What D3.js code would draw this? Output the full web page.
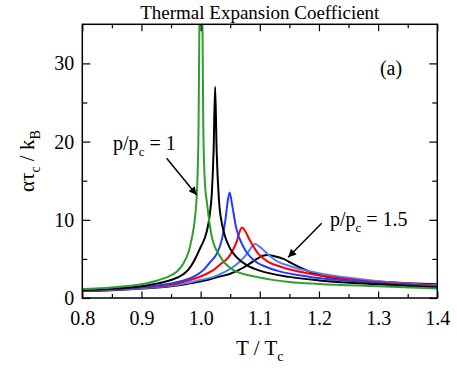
<!DOCTYPE html>
<html>
<head>
<meta charset="utf-8">
<script src="https://cdn.jsdelivr.net/npm/d3@7"></script>
<style>
  body { margin: 0; background: #fff; }
  svg text { fill: #000; }
</style>
</head>
<body>
<div id="master"></div>
<script>
// curves: [T/Tc, alpha*tau_c/kB]
let green = [[0.80,1.15],[0.85,1.35],[0.90,1.75],[0.93,2.3],[0.95,2.9],[0.96,3.4],[0.97,4.3],[0.98,6.0],[0.985,7.6],[0.99,10],[0.994,14],[0.9965,22],[0.998,36],[0.9995,60],[1.0015,60],[1.003,36],[1.0045,22],[1.007,15],[1.011,12],[1.019,7.8],[1.033,5.3],[1.055,3.6],[1.095,2.7],[1.15,2.05],[1.2,1.8],[1.3,1.5],[1.4,1.2]]
let black1 = [[0.80,1.0],[0.85,1.2],[0.90,1.5],[0.93,1.9],[0.95,2.3],[0.97,3.0],[0.98,3.7],[0.99,4.9],[1.00,6.5],[1.01,8.4],[1.015,10.4],[1.019,13.5],[1.022,19],[1.0245,27],[1.027,19],[1.031,12.5],[1.036,9.5],[1.042,7.7],[1.05,6.3],[1.061,5.2],[1.08,4.1],[1.10,3.5],[1.15,2.7],[1.2,2.25],[1.3,1.75],[1.4,1.35]]
let blue = [[0.80,1.0],[0.85,1.15],[0.90,1.4],[0.95,1.85],[0.974,2.3],[0.99,2.8],[1.005,3.6],[1.015,4.5],[1.0276,5.7],[1.036,7.5],[1.0417,9.9],[1.046,12.5],[1.049,13.5],[1.053,12],[1.060,9.0],[1.0726,6.5],[1.092,4.7],[1.11,4.0],[1.129,3.5],[1.185,2.7],[1.25,2.2],[1.3,1.9],[1.4,1.45]]
let red = [[0.80,0.95],[0.85,1.1],[0.90,1.35],[0.95,1.7],[0.9825,2.3],[1.00,2.75],[1.022,3.6],[1.035,4.4],[1.047,5.2],[1.055,6.2],[1.0614,7.3],[1.066,8.5],[1.070,9.0],[1.075,8.6],[1.081,7.7],[1.089,6.6],[1.098,5.6],[1.115,4.6],[1.135,4.0],[1.185,3.1],[1.25,2.4],[1.3,2.0],[1.4,1.55]]
let lightBlue = [[0.80,0.95],[0.85,1.05],[0.90,1.25],[0.95,1.55],[0.977,1.9],[1.00,2.3],[1.022,2.7],[1.04,3.3],[1.0557,4.0],[1.068,4.8],[1.078,5.6],[1.086,6.5],[1.092,6.9],[1.099,6.6],[1.1065,6.1],[1.118,5.3],[1.129,4.7],[1.15,4.1],[1.174,3.6],[1.22,2.9],[1.3,2.15],[1.4,1.65]]
let black2 = [[0.80,0.9],[0.85,1.0],[0.90,1.2],[0.95,1.5],[0.977,1.8],[1.011,2.3],[1.03,2.7],[1.05,3.1],[1.0726,3.9],[1.085,4.5],[1.095,5.0],[1.105,5.4],[1.113,5.5],[1.125,5.35],[1.14,5.0],[1.155,4.4],[1.168,3.9],[1.19,3.2],[1.2135,2.7],[1.25,2.35],[1.3,2.1],[1.35,1.9],[1.4,1.75]]

let series = [black2, lightBlue, red, blue, black1, green]
let seriesColors = ["#000000", "#4f7dff", "#ff0000", "#1f3cff", "#000000", "#2ca02c"]

let xTicks = [0.8, 0.9, 1.0, 1.1, 1.2, 1.3, 1.4]
let xMinor = [0.85, 0.95, 1.05, 1.15, 1.25, 1.35]
let yTicks = [0, 10, 20, 30]
let yMinor = [5, 15, 25]

let w = 457, h = 375
let pL = 82.3, pR = 437.3, pT = 24.3, pB = 298
let serif = "'Liberation Serif', 'DejaVu Serif', serif"

let svg = d3.select("#master").append("svg").attr("width", w).attr("height", h)
  .attr("font-family", serif)

let x = d3.scaleLinear().domain([0.8, 1.4]).range([pL, pR])
let y = d3.scaleLinear().domain([0, 35]).range([pB, pT])

svg.append("defs").append("clipPath").attr("id", "clip")
  .append("rect").attr("x", pL).attr("y", pT).attr("width", pR - pL).attr("height", pB - pT)

let line = d3.line().x(d => x(d[0])).y(d => y(d[1])).curve(d3.curveMonotoneX)

svg.append("g").attr("clip-path", "url(#clip)")
  .selectAll("path")
  .data(series)
  .enter()
  .append("path")
  .attr("d", line)
  .attr("fill", "none")
  .attr("stroke", (d, i) => seriesColors[i])
  .attr("stroke-width", 2)

// axes, ticks inward on all four sides
let fmt = d3.format(".1f")
svg.append("g").attr("transform", "translate(0," + pB + ")")
  .call(d3.axisBottom(x).tickValues(xTicks).tickFormat(fmt).tickSizeInner(-6.5).tickSizeOuter(0).tickPadding(13))
svg.append("g").attr("transform", "translate(0," + pB + ")")
  .call(d3.axisBottom(x).tickValues(xMinor).tickFormat("").tickSizeInner(-4).tickSizeOuter(0))
svg.append("g").attr("transform", "translate(0," + pT + ")")
  .call(d3.axisTop(x).tickValues(xTicks).tickFormat("").tickSizeInner(-7).tickSizeOuter(0))
svg.append("g").attr("transform", "translate(0," + pT + ")")
  .call(d3.axisTop(x).tickValues(xMinor).tickFormat("").tickSizeInner(-4).tickSizeOuter(0))
svg.append("g").attr("transform", "translate(" + pL + ",0)")
  .call(d3.axisLeft(y).tickValues(yTicks).tickSizeInner(-8).tickSizeOuter(0).tickPadding(8))
svg.append("g").attr("transform", "translate(" + pL + ",0)")
  .call(d3.axisLeft(y).tickValues(yMinor).tickFormat("").tickSizeInner(-5).tickSizeOuter(0))
svg.append("g").attr("transform", "translate(" + pR + ",0)")
  .call(d3.axisRight(y).tickValues(yTicks).tickFormat("").tickSizeInner(-8).tickSizeOuter(0))
svg.append("g").attr("transform", "translate(" + pR + ",0)")
  .call(d3.axisRight(y).tickValues(yMinor).tickFormat("").tickSizeInner(-5).tickSizeOuter(0))

svg.selectAll(".domain").remove()
svg.selectAll("g").attr("font-family", serif).attr("font-size", 20)
svg.selectAll(".tick line").attr("stroke", "#000").attr("stroke-width", 1.2)
svg.selectAll(".tick text").attr("fill", "#000")

svg.append("rect").attr("x", pL).attr("y", pT).attr("width", pR - pL).attr("height", pB - pT)
  .attr("fill", "none").attr("stroke", "#000").attr("stroke-width", 1.5)

// title
svg.append("text").attr("x", (pL + pR) / 2).attr("y", 19).attr("text-anchor", "middle")
  .attr("font-size", 19).text("Thermal Expansion Coefficient")

// x label
let xl = svg.append("text").attr("x", (pL + pR) / 2).attr("y", 355).attr("text-anchor", "middle").attr("font-size", 21)
xl.append("tspan").text("T / T")
xl.append("tspan").attr("dy", 6).attr("font-size", 14).text("c")

// y label
let yl = svg.append("text").attr("transform", "translate(34," + ((pT + pB) / 2) + ") rotate(-90)")
  .attr("text-anchor", "middle").attr("font-size", 21)
yl.append("tspan").text("ατ")
yl.append("tspan").attr("dy", 6).attr("font-size", 14).text("c")
yl.append("tspan").attr("dy", -6).text(" / k")
yl.append("tspan").attr("dy", 6).attr("font-size", 14).text("B")

// annotations
svg.append("text").attr("x", x(1.303)).attr("y", y(28.5)).attr("font-size", 20).text("(a)")

function label(t, v, tail) {
  let tx = svg.append("text").attr("x", x(t)).attr("y", y(v)).attr("font-size", 20)
  tx.append("tspan").text("p/p")
  tx.append("tspan").attr("dy", 6).attr("font-size", 13).text("c")
  tx.append("tspan").attr("dy", -6).text(" = " + tail)
}
label(0.852, 18.9, "1")
label(1.2186, 9.2, "1.5")

svg.append("defs").append("marker").attr("id", "arrow").attr("viewBox", "0 0 10 10")
  .attr("refX", 10).attr("refY", 5).attr("markerWidth", 13).attr("markerHeight", 8)
  .attr("markerUnits", "userSpaceOnUse").attr("orient", "auto")
  .append("path").attr("d", "M0,0 L10,5 L0,10 Z").attr("fill", "#000")

let arrows = [[[0.9426, 17.86], [0.9933, 13.17]], [[1.2046, 9.55], [1.148, 5.2]]]
svg.selectAll(".arr").data(arrows).enter().append("line").attr("class", "arr")
  .attr("x1", d => x(d[0][0])).attr("y1", d => y(d[0][1]))
  .attr("x2", d => x(d[1][0])).attr("y2", d => y(d[1][1]))
  .attr("stroke", "#000").attr("stroke-width", 1.5).attr("marker-end", "url(#arrow)")
</script>
</body>
</html>
